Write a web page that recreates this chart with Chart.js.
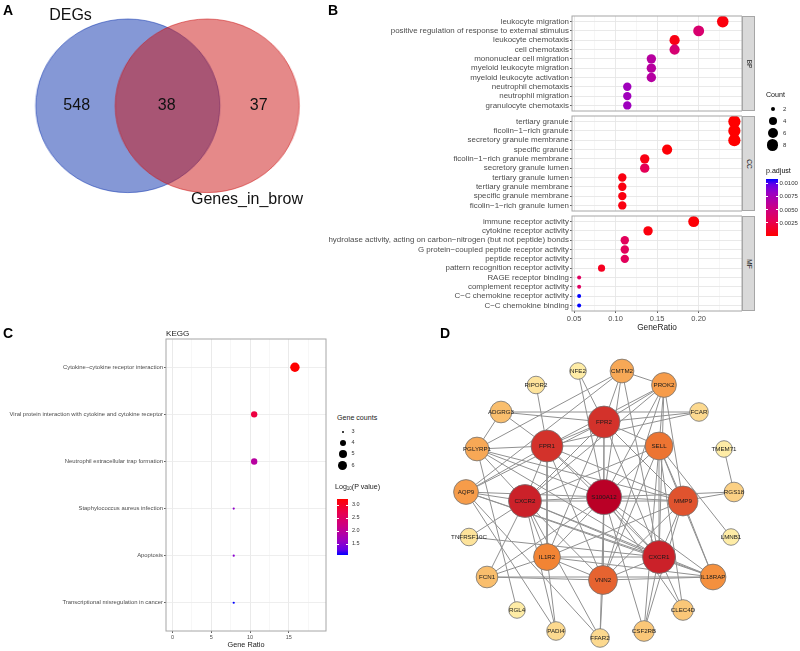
<!DOCTYPE html>
<html>
<head>
<meta charset="utf-8">
<title>DEGs / GO / KEGG / PPI</title>
<script src="https://cdn.jsdelivr.net/npm/chart.js@4.4.0/dist/chart.umd.min.js"></script>
<style>
  html, body { margin: 0; padding: 0; background: #fff; }
  body { position: relative; width: 800px; height: 651px; overflow: hidden;
         font-family: "Liberation Sans", Arial, Helvetica, sans-serif; color: #000; }
  canvas { position: absolute; }
  .t { position: absolute; line-height: 1; white-space: nowrap; color: #111; }
  .strip { position: absolute; box-sizing: border-box; background: #d9d9d9; border: 1px solid #a6a6a6; }
  .strip span { position: absolute; left: 50%; top: 50%; line-height: 1; font-size: 6.5px; color: #1a1a1a;
                transform: translate(-50%, -50%) rotate(90deg); }
  .dot { position: absolute; border-radius: 50%; background: #000; }
  .bar { position: absolute; }
  .tk { position: absolute; background: #fff; height: 1px; width: 2px; }
</style>
</head>
<body>
<script>
// ---------- data ----------
// A: Venn
const vennSets = ['DEGs', 'Genes_in_brow'];
const vennCounts = [548, 38, 37];          // DEGs only, shared, Genes_in_brow only

// B: GO enrichment (BP / CC / MF)
const bpTerms = ['leukocyte migration', 'positive regulation of response to external stimulus',
    'leukocyte chemotaxis', 'cell chemotaxis', 'mononuclear cell migration', 'myeloid leukocyte migration',
    'myeloid leukocyte activation', 'neutrophil chemotaxis', 'neutrophil migration', 'granulocyte chemotaxis'];
const bpRatio = [0.229, 0.200, 0.171, 0.171, 0.143, 0.143, 0.143, 0.114, 0.114, 0.114];
const bpCount = [8, 7, 6, 6, 5, 5, 5, 4, 4, 4];
const bpPadj = [0.00045, 0.0041, 0.00066, 0.0043, 0.0064, 0.0064, 0.0065, 0.0077, 0.0077, 0.0078];

const ccTerms = ['tertiary granule', 'ficolin\u22121\u2212rich granule', 'secretory granule membrane',
    'specific granule', 'ficolin\u22121\u2212rich granule membrane', 'secretory granule lumen',
    'tertiary granule lumen', 'tertiary granule membrane', 'specific granule membrane',
    'ficolin\u22121\u2212rich granule lumen'];
const ccRatio = [0.243, 0.243, 0.243, 0.162, 0.135, 0.135, 0.108, 0.108, 0.108, 0.108];
const ccCount = [9, 9, 9, 6, 5, 5, 4, 4, 4, 4];
const ccPadj = [0.00002, 0.00002, 0.00003, 0.00023, 0.00066, 0.0030, 0.00055, 0.00055, 0.00056, 0.00056];

const mfTerms = ['immune receptor activity', 'cytokine receptor activity',
    'hydrolase activity, acting on carbon\u2212nitrogen (but not peptide) bonds',
    'G protein\u2212coupled peptide receptor activity', 'peptide receptor activity',
    'pattern recognition receptor activity', 'RAGE receptor binding', 'complement receptor activity',
    'C\u2212C chemokine receptor activity', 'C\u2212C chemokine binding'];
const mfRatio = [0.194, 0.139, 0.111, 0.111, 0.111, 0.083, 0.056, 0.056, 0.056, 0.056];
const mfCount = [7, 5, 4, 4, 4, 3, 2, 2, 2, 2];
const mfPadj = [0.00023, 0.00045, 0.0032, 0.0032, 0.0032, 0.0011, 0.0034, 0.0034, 0.0107, 0.0107];

const goTickX = [0.05, 0.075, 0.1, 0.125, 0.15, 0.175, 0.2, 0.225];
const goLabelX = [0.05, 0.1, 0.15, 0.2];
const goCountBreaks = [2, 4, 6, 8];
const goPadjBreaks = [0.0025, 0.005, 0.0075, 0.01];

// C: KEGG
const keggTerms = ['Cytokine\u2212cytokine receptor interaction',
    'Viral protein interaction with cytokine and cytokine receptor',
    'Neutrophil extracellular trap formation', 'Staphylococcus aureus infection',
    'Apoptosis', 'Transcriptional misregulation in cancer'];
const keggRatio = [15.79, 10.53, 10.53, 7.89, 7.89, 7.89];
const keggCount = [6, 4, 4, 3, 3, 3];
const keggLogP = [3.23, 2.80, 1.95, 1.56, 1.52, 1.09];
const keggTickX = [0, 2.5, 5, 7.5, 10, 12.5, 15, 17.5];
const keggLabelX = [0, 5, 10, 15];
const keggCountBreaks = [3, 4, 5, 6];
const keggLogPBreaks = [1.5, 2.0, 2.5, 3.0];

// D: PPI network
const nodeNames = ['S100A12', 'CXCR2', 'CXCR1', 'FPR2', 'FPR1', 'MMP9', 'VNN2', 'SELL', 'IL1R2', 'IL18RAP',
    'PROK2', 'AQP9', 'CMTM2', 'PGLYRP1', 'ADGRG3', 'FCN1', 'CLEC4D', 'CSF2RB', 'RGS18', 'FCAR',
    'PADI4', 'FFAR2', 'RIPOR2', 'TNFRSF10C', 'NFE2', 'TMEM71', 'LMNB1', 'RGL4'];
const nodeDegree = [19, 17, 17, 16, 16, 14, 13, 12, 11, 10, 9, 9, 8, 8, 6, 6, 5, 5, 4, 3, 3, 3, 2, 2, 1, 1, 1, 1];
// layout coordinates (circle-ish layout, centre = S100A12)
const nodeLayout = [[0, -3], [-79, 1], [55, 57], [0, -78], [-57, -54], [79, 1], [-1, 80], [55, -54],
    [-57, 57], [109, 77], [60, -115], [-138, -8], [18, -129], [-127, -51], [-103, -88], [-117, 77],
    [79, 110], [40, 131], [130, -8], [95, -88], [-48, 131], [-4, 138], [-68, -115], [-135, 37],
    [-26, -129], [120, -51], [127, 37], [-87, 110]];
const edges = [
    ['S100A12', 'CXCR2'], ['S100A12', 'CXCR1'], ['S100A12', 'FPR2'], ['S100A12', 'FPR1'], ['S100A12', 'MMP9'],
    ['S100A12', 'VNN2'], ['S100A12', 'SELL'], ['S100A12', 'IL1R2'], ['S100A12', 'IL18RAP'], ['S100A12', 'PROK2'],
    ['S100A12', 'AQP9'], ['S100A12', 'CMTM2'], ['S100A12', 'PGLYRP1'], ['S100A12', 'FCN1'], ['S100A12', 'CLEC4D'],
    ['S100A12', 'RGS18'], ['S100A12', 'NFE2'], ['S100A12', 'CSF2RB'], ['S100A12', 'FFAR2'],
    ['CXCR2', 'CXCR1'], ['CXCR2', 'FPR2'], ['CXCR2', 'FPR1'], ['CXCR2', 'MMP9'], ['CXCR2', 'VNN2'],
    ['CXCR2', 'SELL'], ['CXCR2', 'IL1R2'], ['CXCR2', 'AQP9'], ['CXCR2', 'PGLYRP1'], ['CXCR2', 'FCN1'],
    ['CXCR2', 'TNFRSF10C'], ['CXCR2', 'PROK2'], ['CXCR2', 'PADI4'], ['CXCR2', 'FFAR2'], ['CXCR2', 'IL18RAP'],
    ['CXCR1', 'FPR2'], ['CXCR1', 'FPR1'], ['CXCR1', 'MMP9'], ['CXCR1', 'VNN2'], ['CXCR1', 'SELL'],
    ['CXCR1', 'IL1R2'], ['CXCR1', 'IL18RAP'], ['CXCR1', 'AQP9'], ['CXCR1', 'PROK2'], ['CXCR1', 'CMTM2'],
    ['CXCR1', 'CLEC4D'], ['CXCR1', 'CSF2RB'], ['CXCR1', 'TNFRSF10C'], ['CXCR1', 'PGLYRP1'],
    ['FPR2', 'FPR1'], ['FPR2', 'MMP9'], ['FPR2', 'SELL'], ['FPR2', 'VNN2'], ['FPR2', 'PROK2'],
    ['FPR2', 'CMTM2'], ['FPR2', 'ADGRG3'], ['FPR2', 'FCAR'], ['FPR2', 'AQP9'], ['FPR2', 'IL1R2'], ['FPR2', 'NFE2'],
    ['FPR1', 'SELL'], ['FPR1', 'MMP9'], ['FPR1', 'VNN2'], ['FPR1', 'IL1R2'], ['FPR1', 'RIPOR2'],
    ['FPR1', 'ADGRG3'], ['FPR1', 'PGLYRP1'], ['FPR1', 'AQP9'], ['FPR1', 'PROK2'], ['FPR1', 'FCAR'],
    ['MMP9', 'SELL'], ['MMP9', 'VNN2'], ['MMP9', 'IL1R2'], ['MMP9', 'IL18RAP'], ['MMP9', 'RGS18'],
    ['MMP9', 'PROK2'], ['MMP9', 'CSF2RB'], ['MMP9', 'PGLYRP1'],
    ['VNN2', 'SELL'], ['VNN2', 'IL1R2'], ['VNN2', 'IL18RAP'], ['VNN2', 'FCN1'], ['VNN2', 'PROK2'], ['VNN2', 'FFAR2'],
    ['SELL', 'PROK2'], ['SELL', 'CLEC4D'], ['SELL', 'LMNB1'], ['SELL', 'IL18RAP'], ['SELL', 'CSF2RB'],
    ['IL1R2', 'FCN1'], ['IL1R2', 'PADI4'], ['IL1R2', 'IL18RAP'], ['IL18RAP', 'FCN1'],
    ['PROK2', 'CMTM2'], ['AQP9', 'PADI4'], ['AQP9', 'CMTM2'], ['AQP9', 'IL18RAP'], ['AQP9', 'FFAR2'],
    ['PGLYRP1', 'ADGRG3'], ['PGLYRP1', 'RGL4'], ['ADGRG3', 'FCAR'], ['TMEM71', 'RGS18'], ['CMTM2', 'PGLYRP1']
];

// ---------- helpers ----------
Chart.defaults.font.family = '"Liberation Sans", Arial, Helvetica, sans-serif';
Chart.defaults.animation = false;
Chart.defaults.responsive = false;
Chart.defaults.events = [];
Chart.defaults.layout.autoPadding = false;
Chart.defaults.plugins.legend.display = false;
Chart.defaults.plugins.tooltip.enabled = false;

// red -> blue, roughly as ggplot interpolates it
const heatStops = [[0, [255, 0, 0]], [0.25, [232, 0, 80]], [0.5, [201, 0, 136]], [0.75, [154, 0, 195]],
    [0.9, [104, 0, 231]], [1, [0, 0, 255]]];
const nodeStops = [[0, [254, 236, 166]], [0.3, [249, 186, 104]], [0.55, [243, 134, 52]],
    [0.8, [216, 60, 44]], [1, [186, 0, 38]]];

function mix(stops, t) {
    t = Math.max(0, Math.min(1, t));
    for (let i = 1; i < stops.length; i++) {
        if (t <= stops[i][0]) {
            const [t0, c0] = stops[i - 1], [t1, c1] = stops[i];
            const f = (t - t0) / (t1 - t0);
            return 'rgb(' + c0.map((c, k) => Math.round(c + (c1[k] - c) * f)).join(',') + ')';
        }
    }
    return 'rgb(' + stops[stops.length - 1][1].join(',') + ')';
}
function cssGradient(stops, dir) {
    return 'linear-gradient(' + dir + ',' + stops.map(s => 'rgb(' + s[1].join(',') + ') ' + (s[0] * 100) + '%').join(',') + ')';
}

function makeCanvas(left, top, w, h) {
    const c = document.createElement('canvas');
    c.width = w; c.height = h;
    c.style.left = left + 'px'; c.style.top = top + 'px';
    c.style.width = w + 'px'; c.style.height = h + 'px';
    document.body.appendChild(c);
    return c;
}

function text(html, x, y, size, align, extra) {
    const d = document.createElement('div');
    d.className = 't';
    d.innerHTML = html;
    d.style.fontSize = size + 'px';
    d.style.left = x + 'px';
    d.style.top = y + 'px';
    const tx = align === 'left' ? '0' : align === 'right' ? '-100%' : '-50%';
    d.style.transform = 'translate(' + tx + ',-50%)';
    Object.assign(d.style, extra || {});
    document.body.appendChild(d);
    return d;
}

function box(cls, left, top, w, h, style) {
    const d = document.createElement('div');
    d.className = cls;
    d.style.left = left + 'px'; d.style.top = top + 'px';
    d.style.width = w + 'px'; d.style.height = h + 'px';
    Object.assign(d.style, style || {});
    document.body.appendChild(d);
    return d;
}

// full border round the plot area, like ggplot theme_bw
const panelBorder = {
    id: 'panelBorder',
    defaults: {color: '#a6a6a6', width: 1},
    afterDraw(chart, args, opts) {
        const a = chart.chartArea, ctx = chart.ctx;
        ctx.save();
        ctx.strokeStyle = opts.color;
        ctx.lineWidth = opts.width;
        ctx.strokeRect(a.left, a.top, a.right - a.left, a.bottom - a.top);
        ctx.restore();
    }
};

// ---------- A: Venn ----------
const vennCanvas = makeCanvas(0, 0, 330, 230);
vennCanvas.style.transform = 'scaleX(1.06)';
new Chart(vennCanvas, {
    type: 'bubble',
    data: {
        datasets: [{
            label: vennSets[1],
            data: [{x: 204.8, y: 105.8, r: 86.8}],
            backgroundColor: 'rgba(204,20,20,0.5)',
            borderColor: 'rgba(204,20,20,0.55)',
            borderWidth: 1
        }, {
            label: vennSets[0],
            data: [{x: 129.9, y: 105.8, r: 86.8}],
            backgroundColor: 'rgba(11,49,173,0.5)',
            borderColor: 'rgba(11,49,173,0.55)',
            borderWidth: 1
        }]
    },
    options: {
        layout: {padding: 0},
        scales: {
            x: {display: false, min: 0, max: 330},
            y: {display: false, min: 0, max: 230, reverse: true}
        }
    }
});
text(vennSets[0], 70.5, 15, 16, 'center');
text(vennSets[1], 247, 199, 16, 'center');
text(String(vennCounts[0]), 76.7, 105, 16, 'center');
text(String(vennCounts[1]), 166.7, 105, 16, 'center');
text(String(vennCounts[2]), 258.7, 105, 16, 'center');

// ---------- B: GO dot plots ----------
const goSize = c => 2 + 4.1 * Math.sqrt((c - 2) / 7);
const goAll = bpPadj.concat(ccPadj, mfPadj);
const pMin = Math.min(...goAll), pMax = Math.max(...goAll);
const goColor = p => mix(heatStops, (p - pMin) / (pMax - pMin));
const isGoMajor = v => goLabelX.some(m => Math.abs(m - v) < 1e-9);

function goPanel(terms, ratio, count, padj, plotTop, withAxis, stripText) {
    const padTop = 10, padBot = withAxis ? 0 : 10, axisH = withAxis ? 22 : 0, plotH = 95;
    const canvas = makeCanvas(300, plotTop - padTop, 442, padTop + plotH + padBot + axisH);
    new Chart(canvas, {
        type: 'scatter',
        data: {
            datasets: [{
                data: ratio.map((r, i) => ({x: r, y: i})),
                pointRadius: count.map(goSize),
                backgroundColor: padj.map(goColor),
                borderWidth: 0
            }]
        },
        options: {
            layout: {padding: {top: padTop, bottom: padBot, left: 0, right: 0}},
            scales: {
                x: {
                    min: 0.0474, max: 0.2522,
                    afterBuildTicks: s => { s.ticks = goTickX.map(v => ({value: v})); },
                    afterFit: s => { s.height = axisH; },
                    grid: {
                        color: c => c.tick && isGoMajor(c.tick.value) ? '#e6e6e6' : '#f0f0f0',
                        lineWidth: c => c.tick && isGoMajor(c.tick.value) ? 0.9 : 0.6,
                        drawTicks: withAxis, tickLength: 2,
                        tickColor: c => c.tick && isGoMajor(c.tick.value) ? '#4d4d4d' : 'rgba(0,0,0,0)'
                    },
                    border: {display: false},
                    ticks: {
                        display: withAxis, autoSkip: false, maxRotation: 0, padding: 1,
                        font: {size: 7.5}, color: '#4d4d4d',
                        callback: v => isGoMajor(v) ? v.toFixed(2) : ''
                    },
                    title: {display: withAxis, text: 'GeneRatio', font: {size: 8.3}, color: '#1a1a1a', padding: 0}
                },
                y: {
                    min: -0.6, max: terms.length - 0.4, reverse: true,
                    afterBuildTicks: s => { s.ticks = terms.map((t, i) => ({value: i})); },
                    afterFit: s => { s.width = 272; },
                    grid: {color: '#e6e6e6', lineWidth: 0.9, tickLength: 2, tickColor: '#4d4d4d'},
                    border: {display: false},
                    ticks: {autoSkip: false, padding: 1, font: {size: 7.95}, color: '#4d4d4d', callback: v => terms[v]}
                }
            }
        },
        plugins: [panelBorder]
    });
    const s = box('strip', 742, plotTop, 13, plotH);
    s.innerHTML = '<span>' + stripText + '</span>';
}

goPanel(bpTerms, bpRatio, bpCount, bpPadj, 16, false, 'BP');
goPanel(ccTerms, ccRatio, ccCount, ccPadj, 116, false, 'CC');
goPanel(mfTerms, mfRatio, mfCount, mfPadj, 216, true, 'MF');

// Count legend
text('Count', 766, 96, 7.1, 'left');
goCountBreaks.forEach((c, i) => {
    const r = goSize(c), y = 108.7 + i * 12.1;
    box('dot', 772.7 - r, y - r, 2 * r, 2 * r);
    text(String(c), 783, y, 6, 'left', {color: '#333'});
});
// p.adjust colour bar
text('p.adjust', 766, 172, 7.1, 'left');
const gbTop = 179.3, gbH = 56.7;
box('bar', 766, gbTop, 11.5, gbH, {background: cssGradient(heatStops, 'to top')});
goPadjBreaks.forEach(v => {
    const y = gbTop + (pMax - v) / (pMax - pMin) * gbH;
    box('tk', 766, y - 0.5, 2, 1);
    box('tk', 775.5, y - 0.5, 2, 1);
    text(v.toFixed(4), 779.5, y, 6, 'left', {color: '#333'});
});

// ---------- C: KEGG ----------
const keggSize = c => 1.1 + 3.6 * Math.sqrt((c - 3) / 3);
const lpMin = Math.min(...keggLogP), lpMax = Math.max(...keggLogP);
const keggColor = v => mix(heatStops, (lpMax - v) / (lpMax - lpMin));
const isKeggMajor = v => keggLabelX.includes(v);

new Chart(makeCanvas(0, 329, 327, 320), {
    type: 'scatter',
    data: {
        datasets: [{
            data: keggRatio.map((r, i) => ({x: r, y: i})),
            pointRadius: keggCount.map(keggSize),
            backgroundColor: keggLogP.map(keggColor),
            borderWidth: 0
        }]
    },
    options: {
        layout: {padding: {top: 10, right: 1, bottom: 0, left: 0}},
        scales: {
            x: {
                min: -0.85, max: 19.8,
                afterBuildTicks: s => { s.ticks = keggTickX.map(v => ({value: v})); },
                afterFit: s => { s.height = 18; },
                grid: {
                    color: c => c.tick && isKeggMajor(c.tick.value) ? '#e8e8e8' : '#f2f2f2',
                    lineWidth: c => c.tick && isKeggMajor(c.tick.value) ? 0.9 : 0.6,
                    tickLength: 2,
                    tickColor: c => c.tick && isKeggMajor(c.tick.value) ? '#4d4d4d' : 'rgba(0,0,0,0)'
                },
                border: {display: false},
                ticks: {autoSkip: false, maxRotation: 0, padding: 1, font: {size: 5.5}, color: '#4d4d4d',
                    callback: v => isKeggMajor(v) ? String(v) : ''},
                title: {display: true, text: 'Gene Ratio', font: {size: 7.3}, color: '#1a1a1a', padding: 0}
            },
            y: {
                min: -0.6, max: keggTerms.length - 0.4, reverse: true,
                afterBuildTicks: s => { s.ticks = keggTerms.map((t, i) => ({value: i})); },
                afterFit: s => { s.width = 166; },
                grid: {color: '#ececec', lineWidth: 0.9, tickLength: 2, tickColor: '#4d4d4d'},
                border: {display: false},
                ticks: {autoSkip: false, padding: 1, font: {size: 5.9}, color: '#4d4d4d', callback: v => keggTerms[v]}
            }
        }
    },
    plugins: [panelBorder]
});
text('KEGG', 166, 334.3, 8.1, 'left', {color: '#1a1a1a'});

text('Gene counts', 337, 419.3, 7.1, 'left', {color: '#1a1a1a'});
keggCountBreaks.forEach((c, i) => {
    const r = keggSize(c), y = 432 + i * 11.2;
    box('dot', 342.7 - r, y - r, 2 * r, 2 * r);
    text(String(c), 351.5, y, 5.5, 'left', {color: '#333'});
});
text('Log<sub style="font-size:4.5px;vertical-align:-1px">10</sub>(P value)', 335, 488.3, 7.1, 'left', {color: '#1a1a1a'});
const kbTop = 499.3, kbH = 55.7;
box('bar', 337.3, kbTop, 11, kbH, {background: cssGradient(heatStops, 'to bottom')});
keggLogPBreaks.forEach(v => {
    const y = kbTop + (lpMax - v) / (lpMax - lpMin) * kbH;
    box('tk', 337.3, y - 0.5, 2, 1);
    box('tk', 346.3, y - 0.5, 2, 1);
    text(v.toFixed(1), 352, y, 5.5, 'left', {color: '#333'});
});

// ---------- D: PPI network ----------
const degMin = Math.min(...nodeDegree), degMax = Math.max(...nodeDegree);
const degT = d => (d - degMin) / (degMax - degMin);
const nodeIndex = name => nodeNames.indexOf(name);

const nodeLabels = {
    id: 'nodeLabels',
    afterDatasetsDraw(chart) {
        const meta = chart.getDatasetMeta(0), ctx = chart.ctx;
        ctx.save();
        ctx.font = '6.2px "Liberation Sans", Arial, sans-serif';
        ctx.fillStyle = '#1a1a1a';
        ctx.textAlign = 'center';
        ctx.textBaseline = 'middle';
        meta.data.forEach((pt, i) => ctx.fillText(nodeNames[i], pt.x, pt.y + 0.5));
        ctx.restore();
    }
};

const edgeSets = edges.map(([a, b]) => ({
    data: [a, b].map(n => ({x: nodeLayout[nodeIndex(n)][0], y: nodeLayout[nodeIndex(n)][1]})),
    showLine: true,
    pointRadius: 0,
    borderColor: '#909090',
    borderWidth: 1,
    order: 1
}));

new Chart(makeCanvas(440, 350, 320, 301), {
    type: 'scatter',
    data: {
        datasets: [{
            data: nodeLayout.map(p => ({x: p[0], y: p[1]})),
            pointRadius: nodeDegree.map(d => 8.3 + 9.2 * degT(d)),
            backgroundColor: nodeDegree.map(d => mix(nodeStops, degT(d))),
            borderColor: '#727272',
            borderWidth: 0.8,
            clip: false,
            order: 0
        }].concat(edgeSets)
    },
    options: {
        layout: {padding: 0},
        scales: {
            x: {display: false, min: -164, max: 156},
            y: {display: false, min: -150, max: 151, reverse: true}
        }
    },
    plugins: [nodeLabels]
});

// ---------- panel letters ----------
const letter = {fontWeight: 'bold', color: '#000'};
text('A', 3, 10, 14, 'left', letter);
text('B', 328, 10, 14, 'left', letter);
text('C', 3, 333, 14, 'left', letter);
text('D', 440, 333, 14, 'left', letter);
</script>
</body>
</html>
